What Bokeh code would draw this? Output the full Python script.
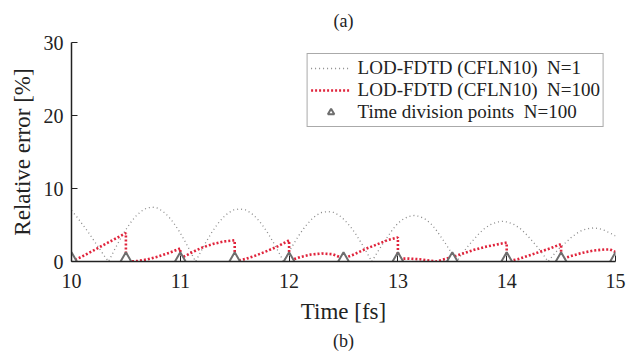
from bokeh.plotting import figure
from bokeh.models import Range1d, Legend, LegendItem, Title, FixedTicker
from bokeh.embed import file_html
from bokeh.resources import INLINE

# N=1 relative error (grey dotted)
t_n1 = [10.00, 10.05, 10.10, 10.15, 10.20, 10.25, 10.30, 10.34,
        10.39, 10.44, 10.49, 10.54, 10.59, 10.64, 10.69, 10.74, 10.79, 10.84, 10.89, 10.94, 10.99, 11.04, 11.09, 11.14,
        11.19, 11.24, 11.29, 11.34, 11.39, 11.44, 11.49, 11.545, 11.60, 11.65, 11.70, 11.75, 11.80, 11.85, 11.90, 11.95,
        12.00, 12.05, 12.10, 12.15, 12.20, 12.25, 12.30, 12.355, 12.41, 12.46, 12.51, 12.56, 12.61, 12.66, 12.71, 12.76,
        12.81, 12.86, 12.91, 12.955, 13.00, 13.05, 13.10, 13.15, 13.20, 13.25, 13.30, 13.345, 13.39, 13.44, 13.49, 13.54,
        13.59, 13.645, 13.70, 13.75, 13.80, 13.855, 13.91, 13.96, 14.01, 14.065, 14.12, 14.17, 14.22, 14.275, 14.33, 14.38,
        14.43, 14.48, 14.54, 14.59, 14.64, 14.69, 14.75, 14.80, 14.85, 14.90, 14.96, 15.00]
e_n1 = [7.00, 6.10, 5.10, 4.10, 3.00, 1.90, 0.80, 0.00,
        1.45, 2.85, 4.14, 5.27, 6.19, 6.88, 7.31, 7.45, 7.31, 6.88, 6.19, 5.27, 4.14, 2.85, 1.45, 0.00,
        1.40, 2.76, 4.00, 5.09, 5.98, 6.65, 7.06, 7.20, 7.06, 6.65, 5.98, 5.09, 4.00, 2.76, 1.40, 0.00,
        1.34, 2.62, 3.81, 4.84, 5.69, 6.33, 6.72, 6.85, 6.72, 6.33, 5.69, 4.84, 3.81, 2.62, 1.34, 0.00,
        1.23, 2.41, 3.50, 4.45, 5.24, 5.82, 6.18, 6.30, 6.18, 5.82, 5.24, 4.45, 3.50, 2.41, 1.23, 0.00,
        1.07, 2.11, 3.06, 3.89, 4.57, 5.08, 5.40, 5.50, 5.40, 5.08, 4.57, 3.89, 3.06, 2.11, 1.07, 0.00,
        0.90, 1.76, 2.56, 3.25, 3.82, 4.25, 4.51, 4.60, 4.51, 4.25, 3.82, 3.50]

# N=100 relative error (red dotted)
t_n100 = [10.00, 10.10, 10.20, 10.30, 10.40, 10.50, 10.50,
          10.60, 10.70, 10.80, 10.90, 11.00, 11.00,
          11.10, 11.20, 11.30, 11.40, 11.50, 11.50,
          11.60, 11.70, 11.80, 11.90, 12.00, 12.00,
          12.10, 12.20, 12.30, 12.40, 12.50,
          12.60, 12.70, 12.80, 12.90, 13.00, 13.00,
          13.10, 13.20, 13.30, 13.35, 13.45, 13.50,
          13.60, 13.70, 13.80, 13.90, 14.00, 14.00,
          14.10, 14.20, 14.30, 14.40, 14.50, 14.50,
          14.60, 14.70, 14.80, 14.90, 14.95, 15.00]
e_n100 = [0.00, 0.70, 1.50, 2.30, 3.10, 3.90, 0.00,
          0.05, 0.30, 0.70, 1.20, 1.80, 0.40,
          1.20, 1.90, 2.40, 2.75, 2.90, 0.00,
          0.35, 0.85, 1.45, 2.10, 2.90, 0.10,
          0.60, 0.95, 1.10, 1.00, 0.40,
          1.00, 1.70, 2.30, 2.90, 3.30, 0.40,
          0.40, 0.30, 0.10, 0.00, 0.40, 0.60,
          1.10, 1.60, 2.00, 2.30, 2.60, 0.00,
          0.30, 0.80, 1.30, 1.80, 2.40, 0.30,
          0.80, 1.20, 1.50, 1.65, 1.65, 1.30]

# time division points
t_div = [10.0, 10.5, 11.0, 11.5, 12.0, 12.5, 13.0, 13.5, 14.0, 14.5, 15.0]
e_div = [0, 0, 0, 0, 0, 0, 0, 0, 0, 0, 0]

x_ticks = [10, 11, 12, 13, 14, 15]
y_ticks = [0, 10, 20, 30]

FONT = "Liberation Serif"
INK = "#222222"

p = figure(width=636, height=356, output_backend="svg", toolbar_location=None,
           x_range=Range1d(10, 15), y_range=Range1d(0, 30),
           min_border_left=71, min_border_right=21, min_border_top=42, min_border_bottom=95)
p.outline_line_color = None
p.grid.visible = False

r1 = p.line(t_n1, e_n1, line_color="#8a8a8a", line_width=1.3, line_dash="1 3")
r2 = p.line(t_n100, e_n100, line_color="#e0243c", line_width=2.6, line_dash="2 2")
r3 = p.scatter(t_div, e_div, marker="triangle", size=16, line_color="#6e6e6e",
               fill_color="white", line_width=2)

for ax in (p.xaxis[0], p.yaxis[0]):
    ax.major_label_text_font = FONT
    ax.major_label_text_font_size = "20px"
    ax.major_label_text_color = INK
    ax.axis_line_color = INK
    ax.axis_line_width = 1.5
    ax.major_tick_line_color = INK
    ax.major_tick_in = 6
    ax.major_tick_out = 0
    ax.minor_tick_line_color = None
    ax.axis_label_text_font = FONT
    ax.axis_label_text_font_style = "normal"
    ax.axis_label_text_color = INK

p.xaxis.ticker = FixedTicker(ticks=x_ticks)
p.yaxis.ticker = FixedTicker(ticks=y_ticks)
p.xaxis.major_label_standoff = 12
p.yaxis.major_label_standoff = 8
p.yaxis.axis_label = "Relative error [%]"
p.yaxis.axis_label_text_font_size = "23px"
p.yaxis.axis_label_standoff = 6
p.xaxis.axis_label = "Time [fs]"
p.xaxis.axis_label_text_font_size = "23px"
p.xaxis.axis_label_standoff = 8

legend = Legend(items=[
    LegendItem(label="LOD-FDTD (CFLN10)  N=1", renderers=[r1]),
    LegendItem(label="LOD-FDTD (CFLN10)  N=100", renderers=[r2]),
    LegendItem(label="Time division points  N=100", renderers=[r3]),
], location="top_right")
legend.label_text_font = FONT
legend.label_text_font_size = "19px"
legend.label_text_color = INK
legend.glyph_width = 40
legend.glyph_height = 16
legend.spacing = 0
legend.padding = 3
legend.margin = 11
legend.border_line_color = "#555555"
legend.border_line_width = 1.2
legend.label_standoff = 7
legend.label_height = 20
p.add_layout(legend)

p.title = Title(text="(a)", align="center", vertical_align="top", text_font=FONT,
                text_font_size="18px", text_font_style="normal", text_color=INK, standoff=19)
p.add_layout(Title(text="(b)", align="center", vertical_align="bottom", text_font=FONT,
                   text_font_size="18px", text_font_style="normal", text_color=INK,
                   standoff=4), "below")

open("out.html", "w").write(file_html(p, INLINE))
